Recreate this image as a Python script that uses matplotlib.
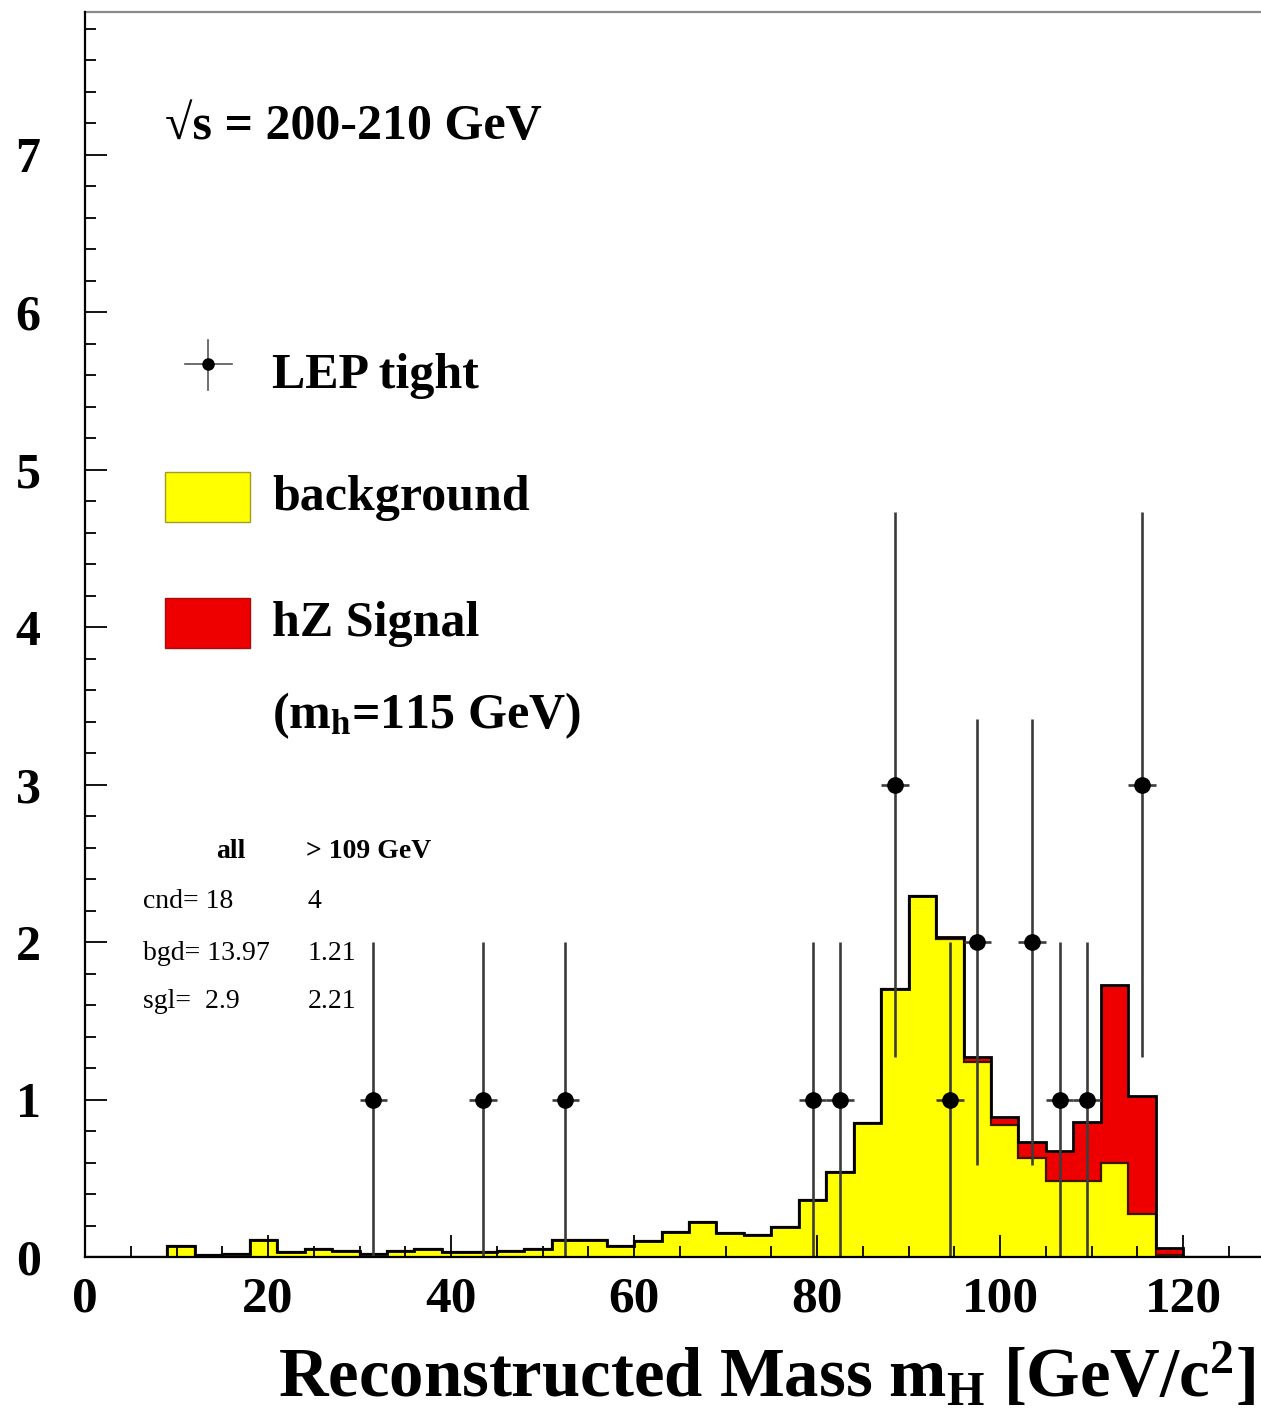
import numpy as np
import matplotlib
matplotlib.use("Agg")
import matplotlib.pyplot as plt
from matplotlib.patches import Rectangle
from matplotlib.lines import Line2D

# ---------------- data ----------------
bin_edges = np.arange(0, 130, 3)  # 0,3,...,129 (3 GeV bins)
background = [0.00, 0.00, 0.00, 0.07, 0.01, 0.02, 0.11, 0.03, 0.05, 0.04,
              0.02, 0.04, 0.05, 0.03, 0.03, 0.04, 0.05, 0.11, 0.11, 0.07,
              0.10, 0.16, 0.22, 0.15, 0.14, 0.19, 0.36, 0.54, 0.85, 1.70,
              2.29, 2.02, 1.24, 0.84, 0.63, 0.48, 0.48, 0.60, 0.27, 0.01,
              0.00, 0.00, 0.00]
signal = [0.00] * 31 + [0.01, 0.03, 0.05, 0.10, 0.19, 0.38, 1.13, 0.75, 0.05,
                        0.00, 0.00, 0.00]
data_mass = [31.5, 43.5, 52.5, 79.5, 82.5, 88.5, 94.5, 97.5, 103.5, 106.5, 109.5, 115.5]
data_counts = [1, 1, 1, 1, 1, 3, 1, 2, 2, 1, 1, 3]
x_ticks = [0, 20, 40, 60, 80, 100, 120]
y_ticks = [0, 1, 2, 3, 4, 5, 6, 7]
table_rows = [("cnd= 18", "4"), ("bgd= 13.97", "1.21"), ("sgl=  2.9", "2.21")]

# ---------------- style ----------------
plt.rcParams['font.family'] = ['Liberation Serif', 'DejaVu Serif']
plt.rcParams['mathtext.fontset'] = 'custom'
plt.rcParams['mathtext.rm'] = 'Liberation Serif:bold'
plt.rcParams['mathtext.it'] = 'Liberation Serif:bold'
plt.rcParams['mathtext.bf'] = 'Liberation Serif:bold'

W, H = 1261, 1412
fig = plt.figure(figsize=(W / 100, H / 100), dpi=100)


def fx(px):
    return px / W


def fy(py):
    return 1 - py / H


ax = fig.add_axes([fx(85), fy(1257), fx(1261) - fx(85), fy(12) - fy(1257)])
ax.set_xlim(0, 128.5)
ax.set_ylim(0, 7.905)

bkg = np.array(background)
sig = np.array(signal)
total = bkg + sig

ax.stairs(total, bin_edges, fill=True, color='#ee0000', zorder=1.0)
ax.stairs(bkg, bin_edges, fill=True, color='#ffff00', zorder=1.1)
ax.stairs(bkg, bin_edges, color='#3a1500', lw=1.6, zorder=1.2)
ax.stairs(total, bin_edges, color='black', lw=2.0, zorder=1.3)

counts = np.array(data_counts, dtype=float)
ax.errorbar(data_mass, counts, yerr=np.sqrt(counts), xerr=1.5, fmt='o',
            color='black', ecolor='#3c3c3c', elinewidth=1.9, markersize=11,
            capsize=0, zorder=3)

# axes styling
for s in ['left', 'bottom']:
    ax.spines[s].set_color('black')
    ax.spines[s].set_linewidth(1.6)
    ax.spines[s].set_zorder(4)
ax.spines['top'].set_color('#8a8a8a')
ax.spines['top'].set_linewidth(1.6)
ax.spines['right'].set_visible(False)

ax.set_xticks(x_ticks)
ax.set_xticks(np.arange(0, 129, 5), minor=True)
ax.set_yticks(y_ticks)
ax.set_yticks(np.arange(0, 7.91, 0.2), minor=True)
ax.tick_params(axis='both', which='both', direction='in', top=False, right=False,
               width=1.3, color='black')
ax.tick_params(axis='both', which='major', length=16)
ax.tick_params(axis='both', which='minor', length=8)
ax.tick_params(axis='x', which='major', pad=14)
ax.tick_params(axis='y', which='major', pad=32)
for lab in ax.get_xticklabels():
    lab.set_fontsize(37)
    lab.set_fontweight('bold')
for lab in ax.get_yticklabels():
    lab.set_fontsize(36)
    lab.set_fontweight('bold')

# x label
fig.text(fx(1255), fy(1396), r"Reconstructed Mass m$_\mathrm{H}$ [GeV/c$^\mathrm{2}$]",
         ha='right', va='baseline', fontsize=49.5, fontweight='bold')

# energy text
fig.text(fx(165), fy(139), "\u221as = 200-210 GeV", ha='left', va='baseline',
         fontsize=36, fontweight='bold', family=['Liberation Serif', 'DejaVu Serif'])

# legend: LEP tight
fig.add_artist(Line2D([fx(185), fx(232)], [fy(364), fy(364)], color='#555555', lw=1.2))
fig.add_artist(Line2D([fx(208), fx(208)], [fy(340), fy(390)], color='#555555', lw=1.2))
fig.add_artist(Line2D([fx(208)], [fy(364)], marker='o', color='black', markersize=8))
fig.text(fx(272), fy(388), "LEP tight", ha='left', va='baseline', fontsize=36,
         fontweight='bold')

# legend: background
fig.add_artist(Rectangle((fx(165), fy(522)), fx(250) - fx(165), fy(472) - fy(522),
                         transform=fig.transFigure, facecolor='#ffff00',
                         edgecolor='#a09a30', lw=1.0))
fig.text(fx(272), fy(510), "background", ha='left', va='baseline', fontsize=36,
         fontweight='bold')

# legend: signal
fig.add_artist(Rectangle((fx(165), fy(648)), fx(250) - fx(165), fy(598) - fy(648),
                         transform=fig.transFigure, facecolor='#ee0000',
                         edgecolor='#a01010', lw=1.0))
fig.text(fx(272), fy(636), "hZ Signal", ha='left', va='baseline', fontsize=36,
         fontweight='bold')
fig.text(fx(272), fy(728), r"(m$_\mathrm{h}$=115 GeV)", ha='left', va='baseline',
         fontsize=36, fontweight='bold')

# small table
fig.text(fx(216), fy(858), "all", ha='left', va='baseline', fontsize=20, fontweight='bold')
fig.text(fx(306), fy(858), "> 109 GeV", ha='left', va='baseline', fontsize=20,
         fontweight='bold')
row_y = [908, 960, 1008]
for (left, right), yy in zip(table_rows, row_y):
    fig.text(fx(143), fy(yy), left, ha='left', va='baseline', fontsize=20)
    fig.text(fx(308), fy(yy), right, ha='left', va='baseline', fontsize=20)

fig.savefig("out.png", dpi=100)
